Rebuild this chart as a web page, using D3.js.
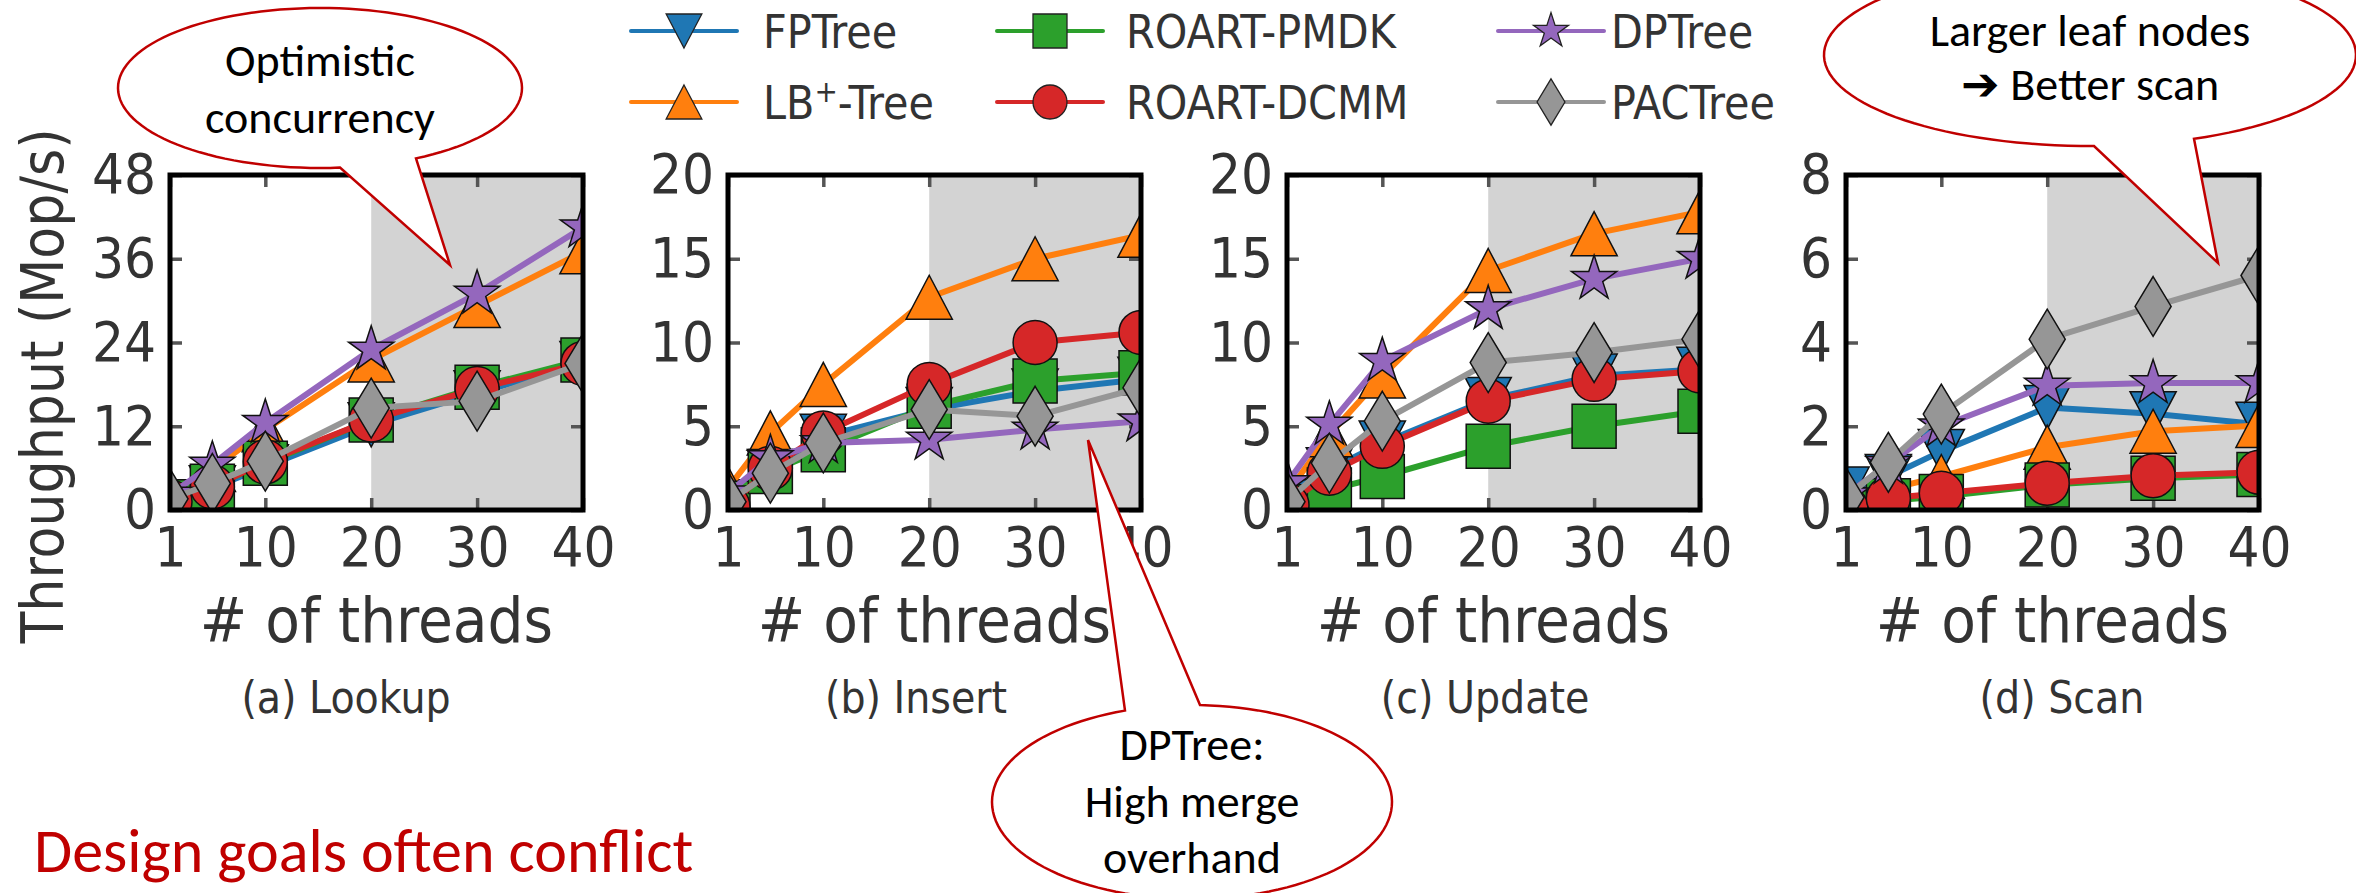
<!DOCTYPE html>
<html lang="en">
<head>
<meta charset="UTF-8">
<title>Tree index throughput vs threads</title>
<script src="https://d3js.org/d3.v7.min.js"></script>
<style>
  body { margin: 0; background: #fff; }
  .tex { font-family: "Liberation Sans Narrow", "DejaVu Sans Condensed", "Lato", sans-serif; fill: #333; }
  .note { font-family: "Carlito", "Lato", sans-serif; fill: #000; }
</style>
</head>
<body>
<svg id="chart" width="2356" height="893"></svg>
<script>
// ---- data ----
const threads = [1, 5, 10, 20, 30, 40];
const seriesNames = ["FPTree", "LB+-Tree", "ROART-PMDK", "ROART-DCMM", "DPTree", "PACTree"];
const seriesColors = ["#1f77b4", "#ff7f0e", "#2ca02c", "#d62728", "#9467bd", "#969696"];
const seriesMarkers = ["triDown", "triUp", "square", "circle", "star", "diamond"];

const panelTitles = ["(a) Lookup", "(b) Insert", "(c) Update", "(d) Scan"];
const panelYTicks = [[0, 12, 24, 36, 48], [0, 5, 10, 15, 20], [0, 5, 10, 15, 20], [0, 2, 4, 6, 8]];
const xTicks = [1, 10, 20, 30, 40];
const shadeFrom = 20;

// rows follow seriesNames order
const lookup = [
  [1.2, 3.2, 6.2, 12.2, 16.8, 21.0],
  [1.8, 5.8, 11.5, 21.5, 29.3, 37.0],
  [1.2, 3.4, 6.7, 12.9, 17.6, 21.5],
  [1.2, 3.3, 6.9, 12.9, 17.4, 21.0],
  [2.2, 6.5, 12.5, 23.0, 31.0, 40.5],
  [1.6, 3.8, 7.0, 14.6, 15.6, 21.0]
];
const insert = [
  [0.5, 2.3, 4.4, 6.0, 7.1, 7.8],
  [1.3, 4.6, 7.5, 12.7, 15.0, 16.4],
  [0.4, 2.3, 3.6, 6.2, 7.7, 8.2],
  [0.2, 2.5, 4.6, 7.5, 10.0, 10.6],
  [1.0, 3.1, 4.0, 4.2, 4.8, 5.3],
  [0.5, 2.2, 4.0, 6.0, 5.6, 7.3]
];
const update = [
  [0.5, 2.4, 4.0, 6.6, 8.0, 8.4],
  [1.0, 4.5, 8.0, 14.3, 16.5, 17.8],
  [0.2, 1.2, 2.0, 3.8, 5.0, 5.9],
  [0.3, 2.2, 3.8, 6.5, 7.8, 8.3],
  [1.6, 5.1, 8.9, 12.0, 13.8, 15.0],
  [0.5, 2.8, 5.3, 8.8, 9.4, 10.2]
];
const scan = [
  [0.5, 0.8, 1.4, 2.45, 2.3, 2.05],
  [0.1, 0.5, 0.8, 1.5, 1.88, 2.02],
  [0.02, 0.22, 0.32, 0.6, 0.76, 0.85],
  [0.05, 0.28, 0.4, 0.64, 0.82, 0.9],
  [0.35, 1.1, 2.0, 2.97, 3.03, 3.03],
  [0.3, 1.14, 2.29, 4.08, 4.86, 5.6]
];
const panels = [lookup, insert, update, scan];

// ---- layout ----
const panelX = [170, 728, 1287, 1846];
const panelW = 413, plotTop = 175, plotBottom = 510;
const titleCenters = [346, 916, 1485, 2062];

const svg = d3.select("#chart");

// matplotlib-like marker shapes, s = nominal size in px
function markerPath(kind, s) {
  const h = s / 2;
  if (kind === "circle") return d3.symbol(d3.symbolCircle, Math.PI * h * h)();
  if (kind === "square") return `M${-h},${-h}H${h}V${h}H${-h}Z`;
  if (kind === "triUp") return `M0,${-h}L${h * 1.05},${h}L${-h * 1.05},${h}Z`;
  if (kind === "triDown") return `M0,${h}L${h * 1.05},${-h}L${-h * 1.05},${-h}Z`;
  if (kind === "diamond") return `M0,${-h * 1.36}L${h * 0.82},0L0,${h * 1.36}L${-h * 0.82},0Z`;
  // star
  const R = h * 1.08, r = R * 0.382, pts = [];
  for (let i = 0; i < 10; i++) {
    const a = -Math.PI / 2 + i * Math.PI / 5, rr = i % 2 ? r : R;
    pts.push([rr * Math.cos(a), rr * Math.sin(a)]);
  }
  return "M" + pts.map(p => p.join(",")).join("L") + "Z";
}

const x = d3.scaleLinear().domain([1, 40]).range([0, panelW]);

panels.forEach((data, p) => {
  const ticks = panelYTicks[p];
  const y = d3.scaleLinear().domain([0, ticks[ticks.length - 1]]).range([plotBottom, plotTop]);
  const g = svg.append("g").attr("transform", `translate(${panelX[p]},0)`);

  g.append("clipPath").attr("id", "clip" + p)
    .append("rect").attr("x", 0).attr("y", plotTop).attr("width", panelW).attr("height", plotBottom - plotTop);

  // shaded many-thread region
  g.append("rect")
    .attr("x", x(shadeFrom)).attr("y", plotTop)
    .attr("width", x(40) - x(shadeFrom)).attr("height", plotBottom - plotTop)
    .attr("fill", "#d3d3d3");

  const axes = [
    [d3.axisBottom(x).tickValues(xTicks).tickFormat(d3.format("d")), `translate(0,${plotBottom})`],
    [d3.axisTop(x).tickValues(xTicks).tickFormat(""), `translate(0,${plotTop})`],
    [d3.axisLeft(y).tickValues(ticks).tickFormat(d3.format("d")), "translate(0,0)"],
    [d3.axisRight(y).tickValues(ticks).tickFormat(""), `translate(${panelW},0)`]
  ];
  axes.forEach(([ax, tr], i) => {
    const a = g.append("g").attr("transform", tr)
      .call(ax.tickSizeInner(-12).tickSizeOuter(0).tickPadding(i === 0 ? 16 : 14));
    a.select(".domain").remove();
    a.selectAll(".tick line").attr("stroke", "#555").attr("stroke-width", 3.5);
    a.selectAll(".tick text").attr("class", "tex").attr("font-size", 56);
  });

  const plot = g.append("g").attr("clip-path", `url(#clip${p})`);
  const line = d3.line().x((d, i) => x(threads[i])).y(d => y(d));
  data.forEach((vals, s) => {
    plot.append("path").datum(vals)
      .attr("d", line).attr("fill", "none")
      .attr("stroke", seriesColors[s]).attr("stroke-width", 6)
      .attr("stroke-linejoin", "round");
    plot.selectAll(null).data(vals).join("path")
      .attr("transform", (d, i) => `translate(${x(threads[i])},${y(d)})`)
      .attr("d", markerPath(seriesMarkers[s], 44))
      .attr("fill", seriesColors[s]).attr("stroke", "#111").attr("stroke-width", 1.5);
  });

  g.append("rect")
    .attr("x", 0).attr("y", plotTop).attr("width", panelW).attr("height", plotBottom - plotTop)
    .attr("fill", "none").attr("stroke", "#000").attr("stroke-width", 5);

  g.append("text").attr("class", "tex")
    .attr("x", panelW / 2).attr("y", 642).attr("text-anchor", "middle")
    .attr("font-size", 63).text("# of threads");

  svg.append("text").attr("class", "tex")
    .attr("x", titleCenters[p]).attr("y", 713).attr("text-anchor", "middle")
    .attr("font-size", 44).text(panelTitles[p]);
});

svg.append("text").attr("class", "tex")
  .attr("transform", "translate(63,386) rotate(-90)")
  .attr("text-anchor", "middle").attr("font-size", 58)
  .text("Throughput (Mop/s)");

// ---- legend ----
const legendCols = [684, 1050, 1551], legendText = [763, 1126, 1611], legendRows = [31, 102];
seriesNames.forEach((name, s) => {
  const cx = legendCols[Math.floor(s / 2)], cy = legendRows[s % 2];
  const lg = svg.append("g");
  lg.append("line").attr("x1", cx - 53).attr("x2", cx + 53).attr("y1", cy).attr("y2", cy)
    .attr("stroke", seriesColors[s]).attr("stroke-width", 4).attr("stroke-linecap", "round");
  lg.append("path").attr("transform", `translate(${cx},${cy})`)
    .attr("d", markerPath(seriesMarkers[s], 34))
    .attr("fill", seriesColors[s]).attr("stroke", "#222").attr("stroke-width", 1.3);
  const t = lg.append("text").attr("class", "tex")
    .attr("x", legendText[Math.floor(s / 2)]).attr("y", cy + 17).attr("font-size", 46);
  if (name === "LB+-Tree") {
    t.append("tspan").text("LB");
    t.append("tspan").attr("font-size", 31).attr("dy", -17).text("+");
    t.append("tspan").attr("dy", 17).text("-Tree");
  } else {
    t.text(name);
  }
});

// ---- callouts ----
const callouts = [
  { lines: ["Optimistic", "concurrency"], cx: 320, cy: 88, rx: 202, ry: 80,
    base: [340, 416], side: 1, tip: [450, 265], baselines: [76, 133] },
  { lines: ["Larger leaf nodes", "\u2794 Better scan"], cx: 2090, cy: 55, rx: 266, ry: 91,
    base: [2094, 2194], side: 1, tip: [2218, 263], baselines: [46, 100] },
  { lines: ["DPTree:", "High merge", "overhand"], cx: 1192, cy: 802, rx: 200, ry: 97,
    base: [1125, 1200], side: -1, tip: [1088, 440], baselines: [760, 817, 873] }
];
callouts.forEach(c => {
  const ang = c.base.map(bx => c.side * Math.acos((bx - c.cx) / c.rx));
  const a = Math.min(...ang), b = Math.max(...ang);
  const pts = d3.range(0, 121).map(i => {
    const t = b + (a + 2 * Math.PI - b) * i / 120;
    return [c.cx + c.rx * Math.cos(t), c.cy + c.ry * Math.sin(t)];
  });
  pts.push(c.tip);
  svg.append("path").attr("d", d3.line()(pts) + "Z")
    .attr("fill", "#fff").attr("stroke", "#c00000").attr("stroke-width", 2.5);
  c.lines.forEach((txt, i) => {
    svg.append("text").attr("class", "note")
      .attr("x", c.cx).attr("y", c.baselines[i]).attr("text-anchor", "middle")
      .attr("font-size", 46).text(txt);
  });
});

svg.append("text").attr("class", "note")
  .attr("x", 34).attr("y", 872).attr("font-size", 62)
  .style("fill", "#c00000").text("Design goals often conflict");
</script>
</body>
</html>
